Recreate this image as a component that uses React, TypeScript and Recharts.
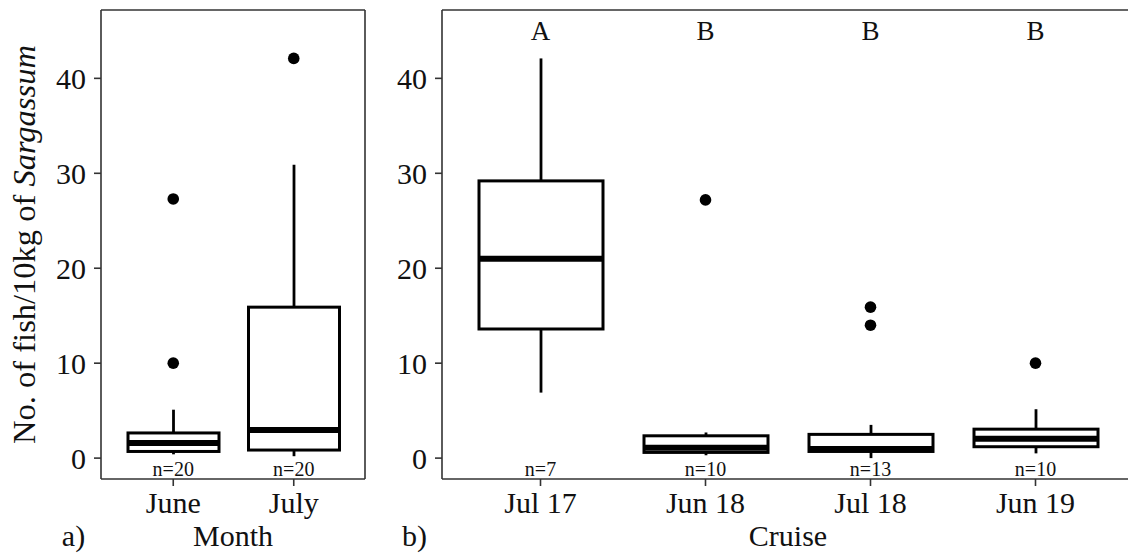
import { ComposedChart, Bar, Scatter, XAxis, YAxis, Label } from 'recharts';

const SERIF = "'Liberation Serif', 'Times New Roman', Times, serif";
const INK = '#000';
const FRAME = '#333';

// Panel a: by month
const MONTHS = ['June', 'July'];
const MONTH_LOW = [0.4, 0.2];
const MONTH_Q1 = [0.7, 0.85];
const MONTH_MEDIAN = [1.6, 2.95];
const MONTH_Q3 = [2.65, 15.9];
const MONTH_HIGH = [5.1, 30.9];
const MONTH_N = [20, 20];
const MONTH_OUTLIER_CAT = ['June', 'June', 'July'];
const MONTH_OUTLIER_VAL = [27.3, 10.0, 42.1];

// Panel b: by cruise
const CRUISES = ['Jul 17', 'Jun 18', 'Jul 18', 'Jun 19'];
const CRUISE_LOW = [6.9, 0.3, 0.0, 0.5];
const CRUISE_Q1 = [13.6, 0.6, 0.7, 1.2];
const CRUISE_MEDIAN = [21.0, 1.1, 0.95, 2.05];
const CRUISE_Q3 = [29.2, 2.35, 2.5, 3.05];
const CRUISE_HIGH = [42.1, 2.7, 3.5, 5.15];
const CRUISE_N = [7, 10, 13, 10];
const CRUISE_GROUPS = ['A', 'B', 'B', 'B'];
const CRUISE_OUTLIER_CAT = ['Jun 18', 'Jul 18', 'Jul 18', 'Jun 19'];
const CRUISE_OUTLIER_VAL = [27.2, 15.9, 14.0, 10.0];

const Y_DOMAIN = [-2.2, 47.2];
const Y_TICKS = [0, 10, 20, 30, 40];
const GROUP_LABEL_Y = 45;
const N_LABEL_Y = -1.1;

type Row = { cat: string; low: number; q1: number; median: number; q3: number; high: number };

const buildRows = (cats: string[], low: number[], q1: number[], med: number[], q3: number[], high: number[]): Row[] =>
  cats.map((cat, i) => ({ cat, low: low[i], q1: q1[i], median: med[i], q3: q3[i], high: high[i] }));

const monthRows = buildRows(MONTHS, MONTH_LOW, MONTH_Q1, MONTH_MEDIAN, MONTH_Q3, MONTH_HIGH);
const cruiseRows = buildRows(CRUISES, CRUISE_LOW, CRUISE_Q1, CRUISE_MEDIAN, CRUISE_Q3, CRUISE_HIGH);

const toPoints = (cats: string[], vals: number[]) => cats.map((cat, i) => ({ cat, v: vals[i] }));
const toTexts = (cats: string[], y: number, texts: string[]) => cats.map((cat, i) => ({ cat, v: y, text: texts[i] }));

// the bar spans low..high whisker; box and median are placed on the same pixel scale
function BoxShape(props: any) {
  const { x, y, width, height, payload } = props;
  const { low, q1, median, q3, high } = payload as Row;
  const ppu = height / (high - low);
  const py = (v: number) => y + (high - v) * ppu;
  const cx = x + width / 2;
  return (
    <g>
      <line x1={cx} x2={cx} y1={py(high)} y2={py(q3)} stroke={INK} strokeWidth={2.8} />
      <line x1={cx} x2={cx} y1={py(q1)} y2={py(low)} stroke={INK} strokeWidth={2.8} />
      <rect x={x} y={py(q3)} width={width} height={py(q1) - py(q3)} fill="#fff" stroke={INK} strokeWidth={3} />
      <line x1={x} x2={x + width} y1={py(median)} y2={py(median)} stroke={INK} strokeWidth={6} />
    </g>
  );
}

const Dot = (p: any) => <circle cx={p.cx} cy={p.cy} r={5.8} fill={INK} />;

const textShape = (size: number) => (p: any) => (
  <text x={p.cx} y={p.cy} textAnchor="middle" dominantBaseline="central" fontFamily={SERIF} fontSize={size} fill="#111">
    {p.payload.text}
  </text>
);

const tickStyle = { fontFamily: SERIF, fontSize: 30, fill: '#111' };
const axisLine = { stroke: FRAME, strokeWidth: 1.6 };
const tickLine = { stroke: FRAME, strokeWidth: 1.6 };

function Panel({ rows, boxSize, pad, tag, title, outliers, nLabels, groups, yTitle, width, margin, yWidth }: any) {
  return (
    <ComposedChart width={width} height={554} data={rows} margin={margin}>
      <XAxis dataKey="cat" allowDuplicatedCategory={false} padding={pad} height={45} tickSize={7} tickMargin={6}
        tick={tickStyle} axisLine={axisLine} tickLine={tickLine} interval={0}>
        <Label content={(lp: any) => {
          const vb = lp.viewBox;
          return (
            <g fontFamily={SERIF} fontSize={30} fill="#111">
              <text x={vb.x + vb.width / 2} y={546} textAnchor="middle">{title}</text>
              <text x={tag.x} y={546} textAnchor="middle">{tag.text}</text>
            </g>
          );
        }} />
      </XAxis>
      {/* top and right axes only close the panel frame */}
      <XAxis xAxisId="top" orientation="top" dataKey="cat" allowDuplicatedCategory={false} padding={pad} height={1}
        tick={false} tickLine={false} axisLine={axisLine} />
      <YAxis type="number" domain={Y_DOMAIN} ticks={Y_TICKS} allowDataOverflow width={yWidth} tickSize={7} tickMargin={8}
        tick={tickStyle} axisLine={axisLine} tickLine={tickLine}>
        {yTitle && (
          <Label content={() => (
            <text transform="translate(35, 244.5) rotate(-90)" textAnchor="middle" fontFamily={SERIF} fontSize={32.5} fill="#111">
              No. of fish/10kg of <tspan fontStyle="italic">Sargassum</tspan>
            </text>
          )} />
        )}
      </YAxis>
      <YAxis yAxisId="right" orientation="right" type="number" domain={Y_DOMAIN} allowDataOverflow width={1}
        tick={false} tickLine={false} axisLine={axisLine} />
      <Bar dataKey={(d: Row) => [d.low, d.high]} barSize={boxSize} shape={BoxShape} isAnimationActive={false} />
      <Scatter data={outliers} dataKey="v" shape={Dot} isAnimationActive={false} />
      <Scatter data={nLabels} dataKey="v" xAxisId="top" yAxisId="right" shape={textShape(20)} isAnimationActive={false} />
      {groups && <Scatter data={groups} dataKey="v" shape={textShape(27)} isAnimationActive={false} />}
    </ComposedChart>
  );
}

export default function App() {
  return (
    <div style={{ position: 'absolute', left: 0, top: 0, width: 1128, height: 554, overflow: 'hidden', background: '#fff' }}>
      <div style={{ position: 'absolute', left: 0, top: 0 }}>
        <Panel
          rows={monthRows}
          boxSize={91}
          pad={{ left: 12, right: 11 }}
          tag={{ x: 73.5, text: 'a)' }}
          title="Month"
          outliers={toPoints(MONTH_OUTLIER_CAT, MONTH_OUTLIER_VAL)}
          nLabels={toTexts(MONTHS, N_LABEL_Y, MONTH_N.map((n) => `n=${n}`))}
          yTitle
          width={380}
          margin={{ top: 9, right: 14, bottom: 30, left: 41 }}
          yWidth={60}
        />
      </div>
      <div style={{ position: 'absolute', left: 380, top: 0 }}>
        <Panel
          rows={cruiseRows}
          boxSize={124}
          pad={{ left: 16, right: 16 }}
          tag={{ x: 34.5, text: 'b)' }}
          title="Cruise"
          outliers={toPoints(CRUISE_OUTLIER_CAT, CRUISE_OUTLIER_VAL)}
          nLabels={toTexts(CRUISES, N_LABEL_Y, CRUISE_N.map((n) => `n=${n}`))}
          groups={toTexts(CRUISES, GROUP_LABEL_Y, CRUISE_GROUPS)}
          width={760}
          margin={{ top: 9, right: 5, bottom: 30, left: 7 }}
          yWidth={55}
        />
      </div>
    </div>
  );
}
